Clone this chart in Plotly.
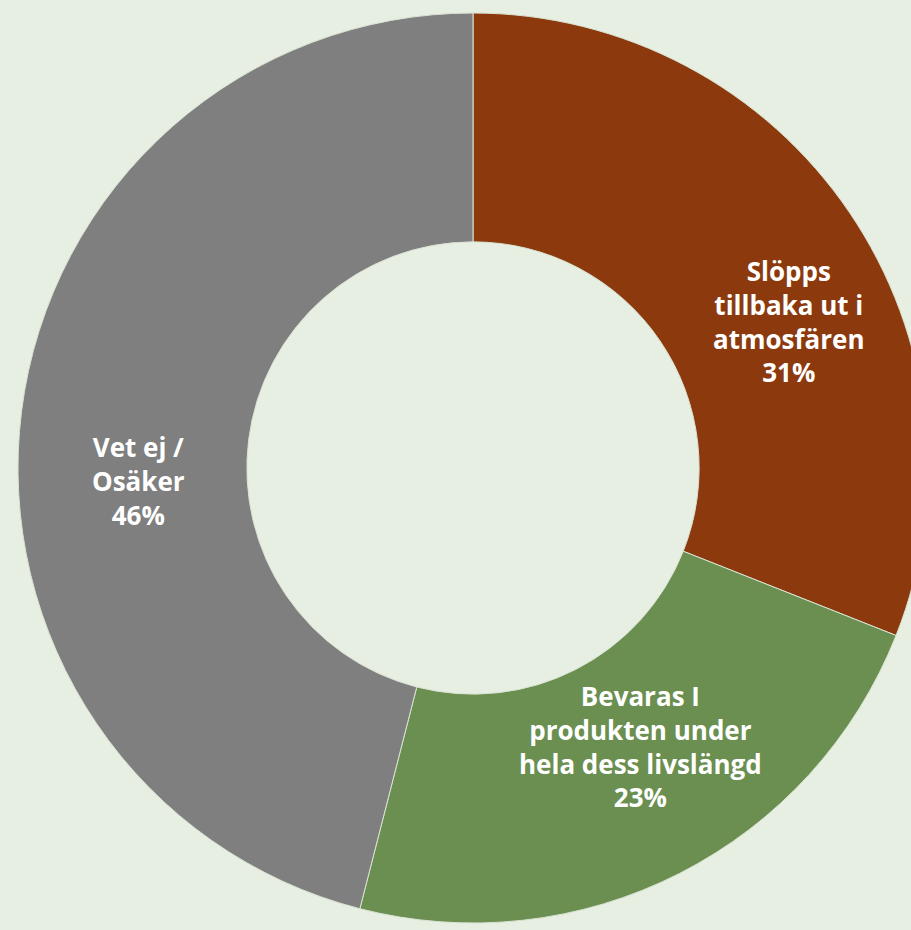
import plotly.graph_objects as go

# Data
categories = ["Slöpps tillbaka ut i atmosfären",
              "Bevaras I produkten under hela dess livslängd",
              "Vet ej / Osäker"]
label_lines = [["Slöpps", "tillbaka ut i", "atmosfären"],
               ["Bevaras I", "produkten under", "hela dess livslängd"],
               ["Vet ej /", "Osäker"]]
values = [31, 23, 46]
colors = ["#8C3A0D", "#6A8F50", "#7F7F7F"]

BG = "#E7EFE2"
W, H = 946, 930

# label anchor positions (pixels in figure)
label_pos = [(789, 321), (640, 746), (138, 481)]

fig = go.Figure()
fig.add_trace(go.Pie(
    labels=categories,
    values=values,
    hole=0.497,
    sort=False,
    direction="clockwise",
    rotation=0,
    marker=dict(colors=colors, line=dict(color="#D9E2D3", width=1)),
    textinfo="none",
    hoverinfo="label+percent",
    showlegend=False,
    domain=dict(x=[18 / W, 928 / W], y=[1 - 923 / H, 1 - 13 / H]),
))

annotations = []
for lines, v, (px, py) in zip(label_lines, values, label_pos):
    annotations.append(dict(
        text="<br>".join(lines + [f"{v}%"]),
        x=px / W, y=1 - py / H, xref="paper", yref="paper",
        xanchor="center", yanchor="middle",
        showarrow=False, align="center",
        font=dict(family="Open Sans", size=26, color="white", weight="bold"),
    ))

fig.update_layout(
    width=W, height=H,
    margin=dict(l=0, r=0, t=0, b=0),
    paper_bgcolor=BG, plot_bgcolor=BG,
    annotations=annotations,
)

fig.write_html("out.html", config={"displayModeBar": False}, post_script=(
    "document.body.style.margin='0';"
    "document.body.style.overflow='hidden';"
    "document.documentElement.style.overflow='hidden';"
    "document.body.style.background='" + BG + "';"
))
